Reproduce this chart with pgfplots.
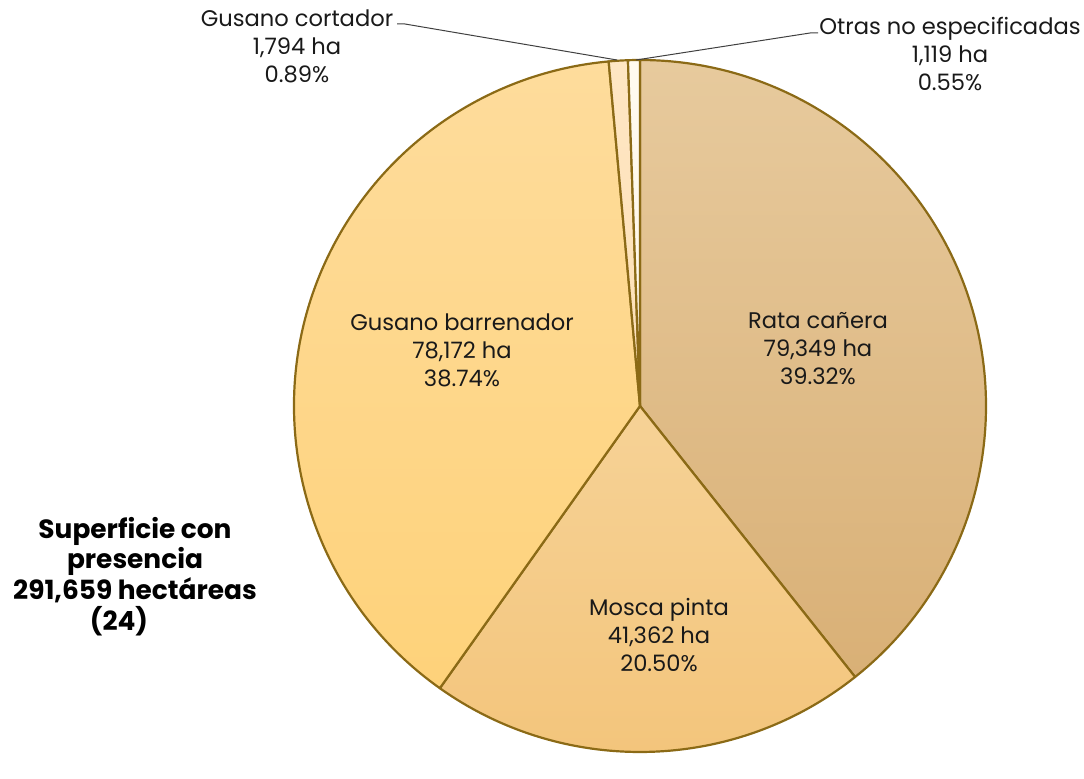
\documentclass[border=0pt]{standalone}
\usepackage{pgfplots}
\pgfplotsset{compat=1.18}
\usepackage{fontspec}
\setmainfont{Poppins}
\definecolor{edge}{RGB}{139,106,22}
\definecolor{rataT}{RGB}{231,202,157}
\definecolor{rataB}{RGB}{217,176,118}
\definecolor{moscaT}{RGB}{246,210,150}
\definecolor{moscaB}{RGB}{243,196,122}
\definecolor{barrT}{RGB}{254,220,156}
\definecolor{barrB}{RGB}{254,210,122}
\definecolor{cortT}{RGB}{254,230,195}
\definecolor{cortB}{RGB}{253,224,182}
\definecolor{otrT}{RGB}{255,250,240}
\definecolor{otrB}{RGB}{255,246,230}
\begin{document}
\begin{tikzpicture}
\begin{axis}[hide axis, scale only axis, width=542pt, height=376pt,
  xmin=0, xmax=1084, ymin=0, ymax=752, clip=false]
\addplot[draw=none] coordinates {(0,0) (1084,752)};
\pgfplotsextra{
  \gdef\angA{90}
  \foreach \v/\tc/\bc in {79349/rataT/rataB, 41362/moscaT/moscaB, 78172/barrT/barrB, 1794/cortT/cortB, 1119/otrT/otrB}{
    \edef\angB{\fpeval{round(\angA - \v/201796*360, 4)}}
    \path[top color=\tc, bottom color=\bc, draw=edge, line width=1.1pt, line join=round]
      (axis cs:640,346) -- ++(\angA:173pt) arc[start angle=\angA, end angle=\angB, radius=173pt] -- cycle;
    \xdef\angA{\angB}
  }
}
\draw[black!75, line width=0.5pt] (axis cs:397,728) -- (axis cs:405,728) -- (axis cs:617,692);
\draw[black!75, line width=0.5pt] (axis cs:636,692) -- (axis cs:810,719) -- (axis cs:818,719);
\tikzset{lab/.style={align=center, font=\fontsize{11.3}{14}\selectfont, text=black!90, inner sep=0pt}}
\node[lab] at (axis cs:462,402) {Gusano barrenador\\78,172 ha\\38.74\%};
\node[lab] at (axis cs:818,403) {Rata cañera\\79,349 ha\\39.32\%};
\node[lab] at (axis cs:659,117) {Mosca pinta\\41,362 ha\\20.50\%};
\node[lab] at (axis cs:297,706) {Gusano cortador\\1,794 ha\\0.89\%};
\node[lab] at (axis cs:950,698) {Otras no especificadas\\1,119 ha\\0.55\%};
\node[align=center, font=\fontsize{13.2}{13.5}\selectfont\bfseries, inner sep=0pt] at (axis cs:135,192) {Superficie con\\presencia\\291,659 hectáreas};
\node[font=\fontsize{13.2}{13.5}\selectfont\bfseries, inner sep=0pt] at (axis cs:119,131) {(24)};
\end{axis}
\end{tikzpicture}
\end{document}
